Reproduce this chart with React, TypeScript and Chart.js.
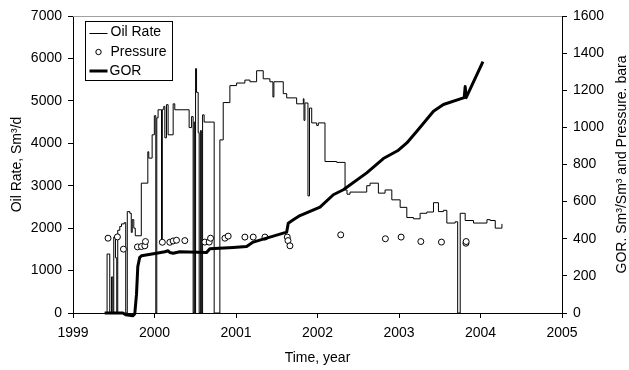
import React, { useEffect, useRef } from 'react';
import { Chart, registerables } from 'chart.js';

Chart.register(...registerables);

// ---- Data ----
const oilYears = [1999.389, 1999.418, 1999.451, 1999.472, 1999.488, 1999.500, 1999.521, 1999.537, 1999.549, 1999.574, 1999.595, 1999.629, 1999.647, 1999.666, 1999.697, 1999.715, 1999.727, 1999.746, 1999.764, 1999.838, 1999.918, 1999.930, 1999.971, 1999.998, 2000.016, 2000.028, 2000.044, 2000.086, 2000.096, 2000.114, 2000.127, 2000.147, 2000.167, 2000.229, 2000.249, 2000.425, 2000.455, 2000.474, 2000.486, 2000.495, 2000.504, 2000.516, 2000.536, 2000.548, 2000.563, 2000.575, 2000.590, 2000.609, 2000.732, 2000.802, 2000.843, 2000.925, 2001.007, 2001.109, 2001.171, 2001.253, 2001.334, 2001.416, 2001.453, 2001.465, 2001.580, 2001.622, 2001.744, 2001.826, 2001.834, 2001.846, 2001.883, 2001.902, 2001.929, 2001.990, 2002.010, 2002.092, 2002.236, 2002.338, 2002.362, 2002.399, 2002.604, 2002.645, 2002.747, 2002.829, 2002.912, 2003.014, 2003.096, 2003.177, 2003.259, 2003.342, 2003.423, 2003.484, 2003.545, 2003.587, 2003.689, 2003.720, 2003.751, 2003.812, 2003.914, 2004.079, 2004.119, 2004.181, 2004.242, 2004.263];
const oilRates = [0, 1390, 0, 850, 0, 1790, 1300, 0, 1950, 2040, 2100, 2130, 0, 2390, 2350, 1900, 2200, 2000, 1820, 3060, 3800, 3650, 4200, 4650, 0, 4600, 4790, 1720, 4800, 4870, 4130, 4910, 4200, 4930, 4790, 4370, 4630, 0, 4500, 0, 5760, 5200, 4250, 0, 4300, 0, 4670, 4500, 0, 4080, 4960, 5360, 5420, 5490, 5450, 5710, 5520, 5450, 5090, 5450, 5170, 5070, 4930, 5050, 4540, 4950, 2760, 4830, 4480, 4420, 4480, 3570, 3550, 2900, 2800, 2850, 3000, 3060, 2825, 2900, 2667, 2490, 2250, 2220, 2350, 2380, 2600, 2390, 2420, 2120, 2150, 0, 2350, 2180, 2120, 2200, 2180, 2000, 2000, 2100];

const gorYears = [1999.389, 1999.611, 1999.647, 1999.733, 1999.758, 1999.779, 1999.795, 1999.819, 1999.840, 2000.025, 2000.127, 2000.167, 2000.188, 2000.229, 2000.311, 2000.639, 2000.679, 2000.966, 2001.130, 2001.211, 2001.622, 2001.641, 2001.703, 2001.785, 2002.031, 2002.194, 2002.317, 2002.604, 2002.808, 2002.993, 2003.096, 2003.219, 2003.423, 2003.545, 2003.800, 2003.812, 2003.824, 2004.030];
const gorValues = [0, 0, -10, -15, -5, 100, 250, 300, 308, 322, 330, 335, 326, 322, 330, 326, 346, 353, 358, 382, 436, 484, 502, 525, 570, 637, 664, 755, 832, 877, 916, 979, 1087, 1123, 1160, 1220, 1160, 1354];

const pressureYears = [1999.430, 1999.545, 1999.619, 1999.791, 1999.840, 1999.881, 1999.889, 2000.096, 2000.188, 2000.229, 2000.270, 2000.372, 2000.618, 2000.671, 2000.688, 2000.864, 2000.904, 2001.109, 2001.211, 2001.355, 2001.629, 2001.638, 2001.662, 2002.285, 2002.833, 2003.026, 2003.268, 2003.521, 2003.821, 2003.824];
const pressureValues = [403, 410, 344, 356, 358, 362, 385, 381, 381, 388, 392, 390, 382, 382, 403, 403, 414, 409, 409, 409, 409, 390, 362, 421, 400, 409, 385, 382, 376, 385];

const seriesLabels = ['Oil Rate', 'Pressure', 'GOR'];
const leftTitle = 'Oil Rate, Sm\u00B3/d';
const rightTitle = 'GOR. Sm\u00B3/Sm\u00B3 and Pressure. bara';
const xTitle = 'Time, year';

const FONT = "'Liberation Sans', Arial, Helvetica, sans-serif";

const overlayPlugin = {
  id: 'overlay',
  beforeDatasetsDraw(chart: any) {
    const { ctx, chartArea: a } = chart;
    ctx.save();
    ctx.strokeStyle = '#a0a0a0';
    ctx.lineWidth = 1;
    ctx.beginPath();
    ctx.moveTo(a.left, a.top + 0.5);
    ctx.lineTo(a.right, a.top + 0.5);
    ctx.stroke();
    ctx.restore();
  },
  afterDraw(chart: any) {
    const { ctx, chartArea: a } = chart;
    ctx.save();
    // right axis title (reads bottom to top)
    ctx.translate(622, (a.top + a.bottom) / 2);
    ctx.rotate(-Math.PI / 2);
    ctx.font = `14px ${FONT}`;
    ctx.fillStyle = '#000';
    ctx.textAlign = 'center';
    ctx.textBaseline = 'middle';
    ctx.fillText(rightTitle, 0, 0);
    ctx.restore();

    // legend box
    ctx.save();
    const bx = Math.round(a.left + 12) + 0.5;
    const by = Math.round(a.top + 5) + 0.5;
    const bw = 87;
    const bh = 59;
    ctx.fillStyle = '#fff';
    ctx.fillRect(bx, by, bw, bh);
    ctx.strokeStyle = '#000';
    ctx.lineWidth = 1;
    ctx.strokeRect(bx, by, bw, bh);
    ctx.font = `14px ${FONT}`;
    ctx.fillStyle = '#000';
    ctx.textAlign = 'left';
    ctx.textBaseline = 'middle';
    const rows = [by + 11, by + 30.5, by + 49.5];
    const sx0 = bx + 4;
    const sx1 = bx + 22;
    const tx = bx + 25;
    // Oil Rate
    ctx.beginPath();
    ctx.lineWidth = 1;
    ctx.moveTo(sx0, Math.round(rows[0]) + 0.5);
    ctx.lineTo(sx1, Math.round(rows[0]) + 0.5);
    ctx.stroke();
    ctx.fillText(seriesLabels[0], tx, rows[0]);
    // Pressure
    ctx.beginPath();
    ctx.arc((sx0 + sx1) / 2, rows[1], 2.7, 0, Math.PI * 2);
    ctx.fillStyle = '#fff';
    ctx.fill();
    ctx.stroke();
    ctx.fillStyle = '#000';
    ctx.fillText(seriesLabels[1], tx, rows[1]);
    // GOR
    ctx.beginPath();
    ctx.lineWidth = 3;
    ctx.moveTo(sx0, rows[2]);
    ctx.lineTo(sx1, rows[2]);
    ctx.stroke();
    ctx.fillText(seriesLabels[2], tx - 1, rows[2]);
    ctx.restore();
  },
};

function toPoints(xs: number[], ys: number[]) {
  return xs.map((x, i) => ({ x, y: ys[i] }));
}

export default function App() {
  const canvasRef = useRef<HTMLCanvasElement | null>(null);

  useEffect(() => {
    const canvas = canvasRef.current;
    if (!canvas) return;
    Chart.defaults.font.family = FONT;
    Chart.defaults.font.size = 14;
    Chart.defaults.color = '#000';

    const chart = new Chart(canvas, {
      type: 'line',
      data: {
        datasets: [
          {
            label: seriesLabels[2],
            data: toPoints(gorYears, gorValues),
            yAxisID: 'y1',
            borderColor: '#000',
            borderWidth: 3,
            pointRadius: 0,
            fill: false,
            tension: 0,
            borderJoinStyle: 'round',
            clip: false as any,
            order: 0,
          },
          {
            label: seriesLabels[1],
            data: toPoints(pressureYears, pressureValues),
            yAxisID: 'y1',
            showLine: false,
            pointStyle: 'circle',
            pointRadius: 3,
            pointBorderWidth: 1,
            pointBorderColor: '#000',
            pointBackgroundColor: '#fff',
            borderColor: '#000',
            backgroundColor: '#fff',
            order: 1,
          },
          {
            label: seriesLabels[0],
            data: toPoints(oilYears, oilRates),
            yAxisID: 'y',
            stepped: 'before',
            borderColor: '#000',
            borderWidth: 1,
            pointRadius: 0,
            fill: false,
            order: 2,
          },
        ],
      },
      options: {
        responsive: false,
        animation: false,
        events: [],
        layout: { padding: { top: 16, left: 0, right: 0, bottom: 0 } },
        plugins: {
          legend: { display: false },
          tooltip: { enabled: false },
        },
        scales: {
          x: {
            type: 'linear',
            min: 1999,
            max: 2005,
            ticks: {
              stepSize: 1,
              padding: 7,
              maxRotation: 0,
              callback: (v: any) => String(v),
              font: { size: 14, family: FONT },
              color: '#000',
            },
            grid: {
              display: true,
              drawOnChartArea: false,
              drawTicks: true,
              tickLength: 5,
              color: '#000',
            },
            border: { display: true, color: '#000', width: 1 },
            title: {
              display: true,
              text: xTitle,
              font: { size: 14, family: FONT },
              color: '#000',
              padding: { top: 0, bottom: 3 },
            },
            afterFit: (scale: any) => {
              scale.height = 57;
            },
          },
          y: {
            type: 'linear',
            position: 'left',
            min: 0,
            max: 7000,
            ticks: {
              stepSize: 1000,
              padding: 6,
              callback: (v: any) => String(v),
              font: { size: 14, family: FONT },
              color: '#000',
            },
            grid: {
              display: true,
              drawOnChartArea: false,
              drawTicks: true,
              tickLength: 5,
              color: '#000',
            },
            border: { display: true, color: '#000', width: 1 },
            title: {
              display: true,
              text: leftTitle,
              font: { size: 14, family: FONT },
              color: '#000',
              padding: { top: 8.6, bottom: 0 },
            },
            afterFit: (scale: any) => {
              scale.width = 73;
            },
          },
          y1: {
            type: 'linear',
            position: 'right',
            min: 0,
            max: 1600,
            ticks: {
              stepSize: 200,
              padding: 6,
              callback: (v: any) => String(v),
              font: { size: 14, family: FONT },
              color: '#000',
            },
            grid: {
              display: true,
              drawOnChartArea: false,
              drawTicks: true,
              tickLength: 5,
              color: '#000',
            },
            border: { display: true, color: '#000', width: 1 },
            afterFit: (scale: any) => {
              scale.width = 67;
            },
          },
        },
      },
      plugins: [overlayPlugin],
    });

    return () => {
      chart.destroy();
    };
  }, []);

  return (
    <div
      style={{
        position: 'fixed',
        left: 0,
        top: 0,
        width: 629,
        height: 370,
        background: '#fff',
      }}
    >
      <canvas ref={canvasRef} width={629} height={370} style={{ display: 'block', width: 629, height: 370 }} />
    </div>
  );
}
